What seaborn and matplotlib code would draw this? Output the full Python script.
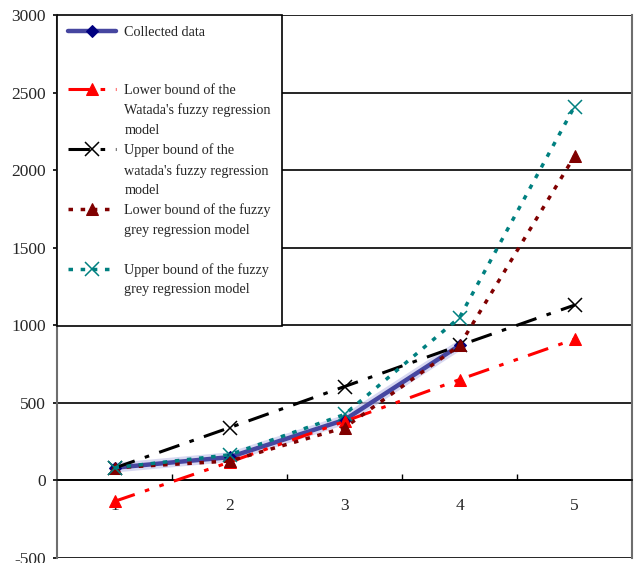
import numpy as np
import pandas as pd
import seaborn as sns
import matplotlib.pyplot as plt
from matplotlib.lines import Line2D
from matplotlib.ticker import FixedLocator

sns.set_style("white")
plt.rcParams["font.family"] = ["Liberation Serif", "DejaVu Serif"]
plt.rcParams["axes.unicode_minus"] = False

# dati
periods = [1, 2, 3, 4, 5]
collected = [82, 150, 390, 870]
watada_low = [-135, 118, 380, 650, 910]
watada_up = [80, 340, 605, 870, 1130]
grey_low = [82, 125, 340, 870, 2090]
grey_up = [82, 165, 425, 1050, 2410]

df = pd.DataFrame({
    "period": periods,
    "watada_low": watada_low,
    "watada_up": watada_up,
    "grey_low": grey_low,
    "grey_up": grey_up,
})
df_coll = pd.DataFrame({"period": periods[:4], "collected": collected})

fig = plt.figure(figsize=(6.35, 5.63), dpi=100)
ax = fig.add_axes([57 / 635, 5 / 563, 575 / 635, 543 / 563])

# collected data, con un alone chiaro sotto
sns.lineplot(data=df_coll, x="period", y="collected", ax=ax, color="#c8c8ec",
             lw=7, alpha=0.7, label="_glow", zorder=2)
sns.lineplot(data=df_coll, x="period", y="collected", ax=ax, color="#4646a0",
             lw=3.2, marker="D", markersize=6, markerfacecolor="#000080",
             markeredgecolor="#000080", label="Collected data", zorder=3)

sns.lineplot(data=df, x="period", y="watada_low", ax=ax, color="#ff0000", lw=2.2,
             linestyle=(0, (7, 3.5, 1.5, 3.5, 1.5, 3.5)), marker="^", markersize=9,
             markeredgecolor="#ff0000", label="Lower bound of the", zorder=4)
sns.lineplot(data=df, x="period", y="watada_up", ax=ax, color="black", lw=2.2,
             linestyle=(0, (7, 3.5, 1.5, 3.5)), marker="x", markersize=10,
             markeredgecolor="black", markeredgewidth=1.1,
             label="Upper bound of the", zorder=4)
sns.lineplot(data=df, x="period", y="grey_low", ax=ax, color="#800000", lw=2.5,
             linestyle=(0, (1.3, 2.2)), marker="^", markersize=9,
             markeredgecolor="#800000", label="Lower bound of the fuzzy", zorder=5)
sns.lineplot(data=df, x="period", y="grey_up", ax=ax, color="#008080", lw=2.5,
             linestyle=(0, (1.3, 2.2)), marker="x", markersize=10,
             markeredgecolor="#008080", markeredgewidth=1.1,
             label="Upper bound of the fuzzy", zorder=5)

ax.set_xlim(0.5, 5.5)
ax.set_ylim(-500, 3000)
ax.set_yticks(np.arange(-500, 3001, 500))
ax.set_xticks(periods)
ax.set_xticklabels([str(p) for p in periods])
ax.xaxis.set_minor_locator(FixedLocator([1.5, 2.5, 3.5, 4.5]))
ax.set_xlabel("")
ax.set_ylabel("")

ax.grid(axis="y", color="black", lw=1.2, zorder=0)
ax.set_axisbelow(True)
ax.spines["bottom"].set_position(("data", 0))
ax.spines["bottom"].set_color("black")
ax.spines["bottom"].set_linewidth(1.2)
ax.spines["top"].set_visible(False)
for s in ["left", "right"]:
    ax.spines[s].set_color("#6e6e6e")
    ax.spines[s].set_linewidth(1.5)

ax.tick_params(axis="x", which="major", length=0, pad=13, labelsize=12.5)
ax.tick_params(axis="x", which="minor", length=4, width=1, direction="in",
               color="black", top=False, bottom=True)
ax.tick_params(axis="y", length=3, width=1.2, pad=5, labelsize=12.5,
               left=True, color="black")

# legenda con righe vuote per le etichette su più righe
handles, labels = ax.get_legend_handles_labels()
h = dict(zip(labels, handles))
blank = Line2D([], [], linestyle="none")
rows = [
    (h["Collected data"], "Collected data"),
    (blank, " "),
    (blank, " "),
    (h["Lower bound of the"], "Lower bound of the"),
    (blank, "Watada's fuzzy regression"),
    (blank, "model"),
    (h["Upper bound of the"], "Upper bound of the"),
    (blank, "watada's fuzzy regression"),
    (blank, "model"),
    (h["Lower bound of the fuzzy"], "Lower bound of the fuzzy"),
    (blank, "grey regression model"),
    (blank, " "),
    (h["Upper bound of the fuzzy"], "Upper bound of the fuzzy"),
    (blank, "grey regression model"),
    (blank, " "),
]
leg = ax.legend([r[0] for r in rows], [r[1] for r in rows], loc="upper left",
                bbox_to_anchor=(0, 1), borderaxespad=0, fontsize=10.2,
                frameon=True, fancybox=False, framealpha=1, edgecolor="black",
                handlelength=3.4, handletextpad=0.6, handleheight=0.7,
                labelspacing=0.46, borderpad=0.75)
leg.get_frame().set_linewidth(1.2)
leg.set_zorder(10)

fig.savefig("out.png", dpi=100)
